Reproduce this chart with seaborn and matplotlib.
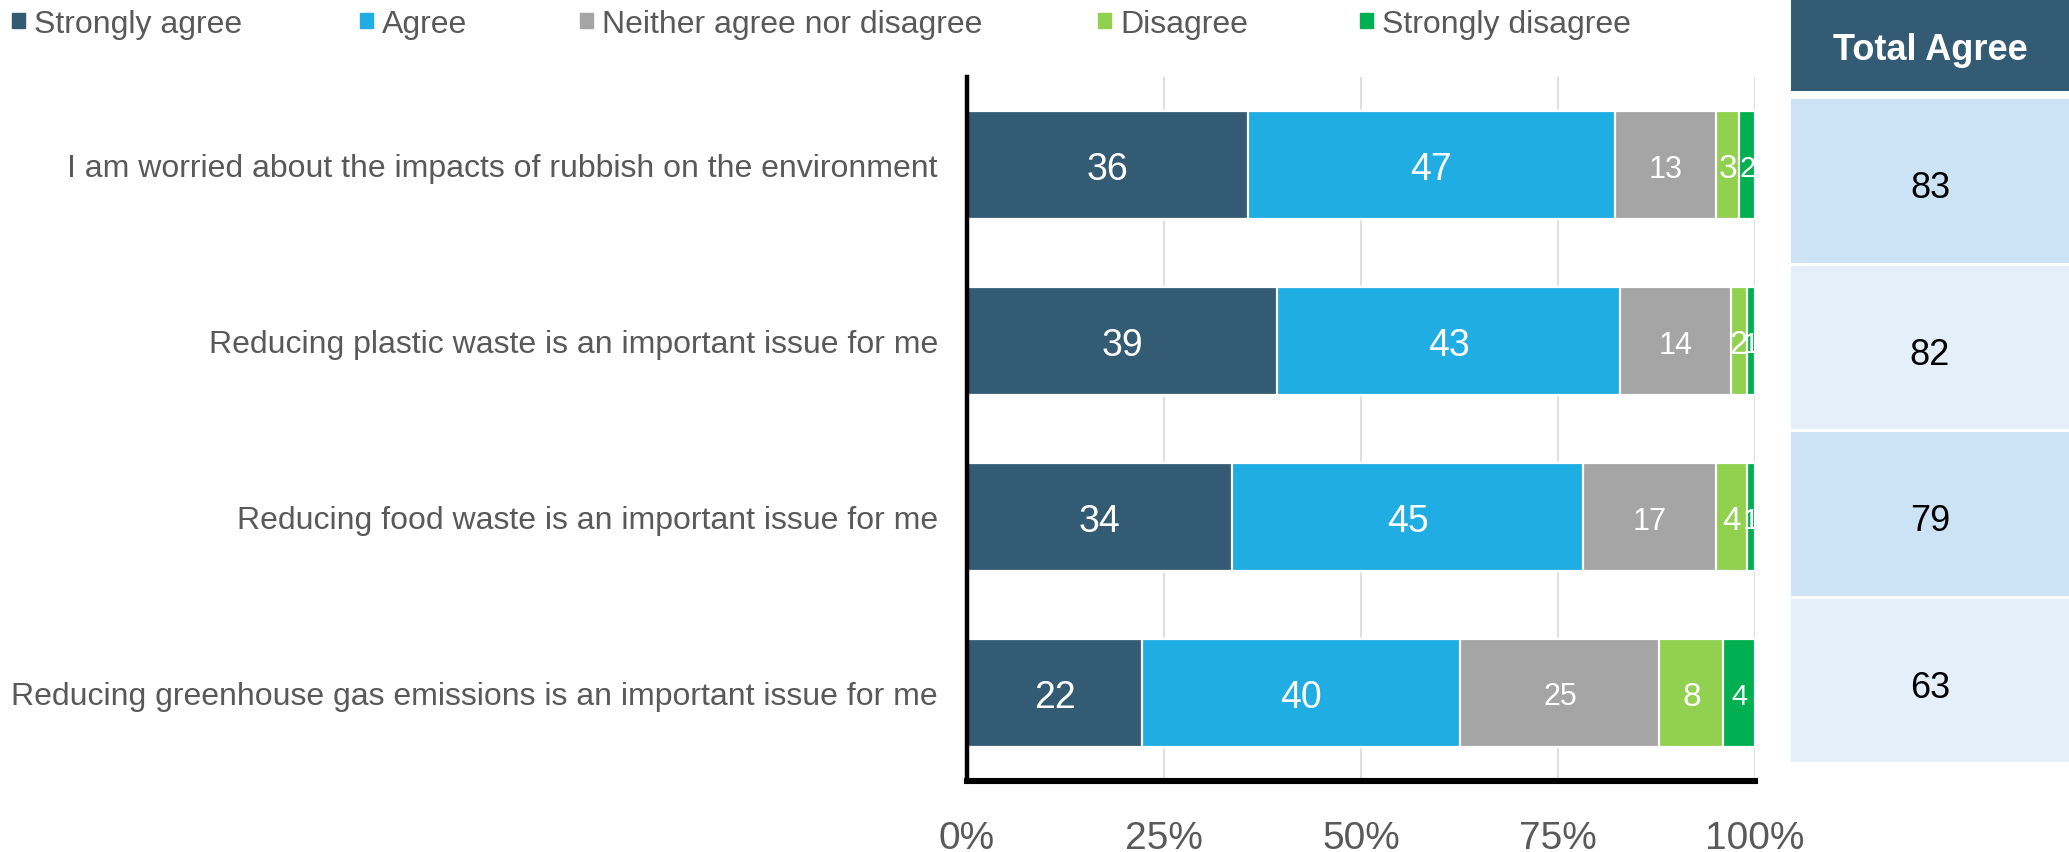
import numpy as np
import pandas as pd
import matplotlib
matplotlib.use("Agg")
import matplotlib.pyplot as plt
from matplotlib import font_manager as fm
from matplotlib.patches import Rectangle
import seaborn as sns

# ---- data -------------------------------------------------------------
statements = [
    "I am worried about the impacts of rubbish on the environment",
    "Reducing plastic waste is an important issue for me",
    "Reducing food waste is an important issue for me",
    "Reducing greenhouse gas emissions is an important issue for me",
]
series_names = ["Strongly agree", "Agree", "Neither agree nor disagree",
                "Disagree", "Strongly disagree"]
strongly_agree = [36, 39, 34, 22]
agree = [47, 43, 45, 40]
neutral = [13, 14, 17, 25]
disagree = [3, 2, 4, 8]
strongly_disagree = [2, 1, 1, 4]
total_agree = [83, 82, 79, 63]
tick_values = [0, 25, 50, 75, 100]
tick_labels = ["0%", "25%", "50%", "75%", "100%"]

# ---- styling ----------------------------------------------------------
colors = ["#335B74", "#1FADE4", "#A5A5A5", "#92D050", "#00B050"]
label_sizes = [27, 27, 22, 24, 21]
grey_text = "#595959"
row_colors = ["#CCE2F5", "#E4EFF9"]

sns.set_theme(style="white")
plt.rcParams["font.family"] = ["Liberation Sans", "DejaVu Sans"]


def has_font(name):
    try:
        fm.findfont(fm.FontProperties(family=name), fallback_to_default=False)
        return True
    except Exception:
        return False


if has_font("Liberation Sans Narrow"):
    legend_family, legend_size = "Liberation Sans Narrow", 27
else:
    legend_family, legend_size = "Liberation Sans", 23

W, H = 2069, 853
fig = plt.figure(figsize=(W / 100, H / 100), dpi=100)
ax = fig.add_axes([967 / W, 1 - 782 / H, (1755 - 967) / W, (782 - 78) / H])

# ---- stacked bars (each row shown as share of its total) --------------
values = np.array([strongly_agree, agree, neutral, disagree, strongly_disagree],
                  dtype=float)
shares = values / values.sum(axis=0) * 100
cum = np.cumsum(shares, axis=0)
lefts = cum - shares

for k in range(len(series_names) - 1, -1, -1):
    df = pd.DataFrame({"statement": statements, "value": cum[k]})
    sns.barplot(data=df, y="statement", x="value", orient="y",
                color=colors[k], saturation=1, width=0.616,
                edgecolor="white", linewidth=1.6, errorbar=None, ax=ax)

for k in range(len(series_names)):
    for i in range(len(statements)):
        ax.text(lefts[k, i] + shares[k, i] / 2, i, f"{values[k, i]:.0f}",
                ha="center", va="center_baseline", color="white",
                fontsize=label_sizes[k], clip_on=False, zorder=5)

ax.set_xlim(0, 100)
ax.set_ylim(len(statements) - 0.5, -0.5)
ax.set_xticks(tick_values)
ax.set_xticklabels(tick_labels)
ax.set_xlabel("")
ax.set_ylabel("")
ax.tick_params(axis="x", length=0, pad=28, labelsize=28, labelcolor=grey_text)
ax.tick_params(axis="y", length=0, pad=21, labelsize=23, labelcolor=grey_text)
ax.set_axisbelow(True)
ax.xaxis.grid(True, color="#D9D9D9", linewidth=1.2)
ax.yaxis.grid(False)
for side in ["top", "right"]:
    ax.spines[side].set_visible(False)
ax.spines["left"].set_color("black")
ax.spines["left"].set_linewidth(3.2)
ax.spines["bottom"].set_color("black")
ax.spines["bottom"].set_linewidth(4.4)

# ---- legend along the top --------------------------------------------
legend_x = [12, 360, 580, 1098, 1360]
legend_y = 21
for name, col, x0 in zip(series_names, colors, legend_x):
    fig.patches.append(Rectangle((x0 / W, 1 - (legend_y + 8) / H), 13 / W, 15 / H,
                                 transform=fig.transFigure, color=col))
    fig.text((x0 + 22) / W, 1 - legend_y / H, name, ha="left",
             va="center_baseline", color=grey_text, fontsize=legend_size,
             family=legend_family)

# ---- "Total Agree" side table -----------------------------------------
tab = fig.add_axes([1791 / W, 1 - 763 / H, 1 - 1791 / W, 763 / H])
tab.set_xlim(0, 1)
tab.set_ylim(763, 0)
tab.axis("off")
header_h, header_gap, row_gap = 92, 8, 3
row_h = (763 - header_h - header_gap - row_gap * (len(total_agree) - 1)) / len(total_agree)
tab.add_patch(Rectangle((0, 0), 1, header_h, color=colors[0], lw=0))
tab.text(0.5, header_h / 2, "Total Agree", ha="center", va="center_baseline",
         color="white", fontsize=26, fontweight="bold")
for i, v in enumerate(total_agree):
    top = header_h + header_gap + i * (row_h + row_gap)
    tab.add_patch(Rectangle((0, top), 1, row_h, color=row_colors[i % 2], lw=0))
    tab.text(0.5, top + row_h / 2 + 3, str(v), ha="center", va="center_baseline",
             color="black", fontsize=26)

fig.savefig("out.png", dpi=100)
